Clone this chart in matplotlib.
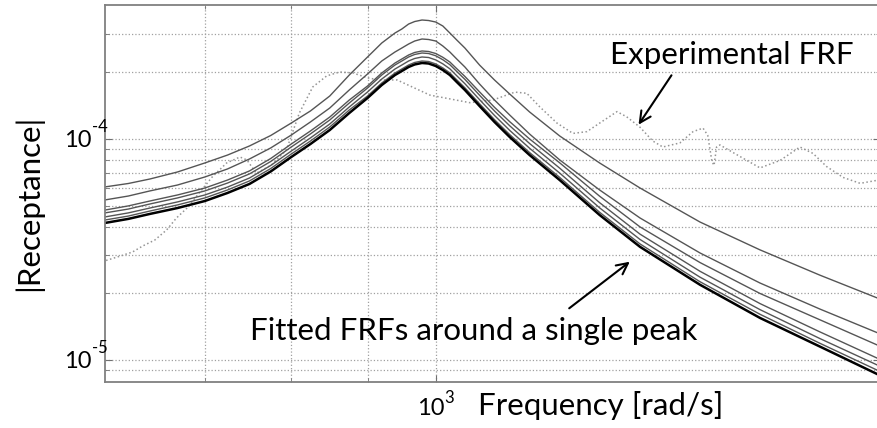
import numpy as np
import matplotlib
matplotlib.use('Agg')
import matplotlib.pyplot as plt

plt.rcParams['font.family'] = ['Lato', 'DejaVu Sans']

# frequency grid of the fitted FRFs [rad/s]
freq = [600, 622, 643, 671, 700, 725, 750, 775, 800, 824, 849, 875, 900, 920, 939, 949, 959, 968,
        979, 989, 1000, 1011, 1022, 1033, 1046, 1070, 1095, 1121, 1156, 1211, 1288, 1371, 1504,
        1650, 1810, 1977]

# fitted FRFs, |receptance| in units of 1e-5 (top curve first)
fit1 = [6.07, 6.29, 6.59, 7.09, 7.79, 8.46, 9.30, 10.37, 11.81, 13.39, 15.65, 19.48, 23.50, 27.19,
        30.18, 31.46, 33.14, 34.01, 34.55, 34.37, 33.83, 32.46, 30.18, 28.05, 25.81, 21.61, 18.49,
        15.98, 13.25, 10.32, 7.79, 6.00, 4.21, 3.15, 2.42, 1.91]
fit2 = [5.30, 5.52, 5.82, 6.19, 6.73, 7.32, 8.12, 9.11, 10.42, 11.94, 13.81, 16.67, 19.69, 22.54,
        24.76, 25.81, 26.91, 27.76, 28.35, 28.20, 27.76, 26.35, 24.76, 23.01, 21.18, 17.74, 15.01,
        12.84, 10.53, 8.04, 5.88, 4.39, 3.05, 2.23, 1.70, 1.33]
fit3 = [4.77, 4.98, 5.24, 5.58, 6.00, 6.52, 7.17, 8.16, 9.49, 10.87, 12.57, 15.01, 17.37, 19.89,
        22.07, 23.02, 24.00, 24.64, 25.02, 24.89, 24.37, 23.43, 22.31, 20.80, 19.20, 16.34, 13.91,
        11.98, 10.00, 7.80, 5.51, 4.00, 2.76, 2.00, 1.52, 1.17]
fit4 = [4.63, 4.82, 5.08, 5.41, 5.82, 6.32, 6.95, 7.91, 9.20, 10.54, 12.19, 14.55, 17.01, 19.48,
        21.62, 22.54, 23.51, 24.13, 24.50, 24.37, 23.80, 22.84, 21.70, 20.21, 18.62, 15.78, 13.39,
        11.48, 9.54, 7.38, 5.15, 3.71, 2.52, 1.80, 1.34, 1.02]
fit5 = [4.44, 4.63, 4.87, 5.19, 5.58, 6.06, 6.66, 7.59, 8.82, 10.11, 11.69, 13.96, 16.32, 18.68,
        20.74, 21.62, 22.55, 23.14, 23.50, 23.38, 22.80, 21.88, 20.78, 19.33, 17.80, 15.07, 12.78,
        10.94, 9.08, 7.01, 4.88, 3.51, 2.37, 1.69, 1.25, 0.95]
fit6 = [4.30, 4.48, 4.72, 5.03, 5.41, 5.88, 6.46, 7.35, 8.55, 9.79, 11.33, 13.53, 15.65, 17.92,
        19.89, 20.74, 21.62, 22.20, 22.54, 22.42, 21.86, 20.97, 19.91, 18.52, 17.05, 14.44, 12.23,
        10.47, 8.68, 6.70, 4.66, 3.35, 2.26, 1.61, 1.19, 0.90]
fit7 = [4.17, 4.35, 4.58, 4.87, 5.24, 5.70, 6.26, 7.13, 8.29, 9.49, 10.98, 13.11, 15.33, 17.55,
        19.48, 20.31, 21.18, 21.74, 22.08, 21.96, 21.40, 20.52, 19.48, 18.11, 16.67, 14.10, 11.94,
        10.21, 8.46, 6.52, 4.53, 3.25, 2.19, 1.55, 1.15, 0.864]

# experimental FRF
exp_freq = [601, 614, 626, 636, 648, 660, 670, 681, 694, 708, 724, 739, 747, 758, 776,
            794, 810, 827, 845, 862, 880, 900, 917, 942, 991, 1054, 1092, 1130, 1151, 1174,
            1206, 1236, 1263, 1288, 1323, 1343, 1371, 1398, 1420, 1458, 1488, 1511, 1522, 1532,
            1537, 1543, 1551, 1582, 1650, 1702, 1755, 1791, 1829, 1876, 1926, 1977]
exp_rec = [2.82, 2.95, 3.08, 3.28, 3.49, 3.88, 4.39, 4.87, 5.70, 6.73, 7.79, 8.29, 8.04, 7.0, 7.63,
           8.92, 13.1, 17.2, 19.3, 20.1, 19.9, 18.9, 18.5, 18.5, 15.8, 14.6, 15.0, 16.3, 16.1, 14.0,
           11.8, 10.6, 10.8, 11.8, 13.3, 12.6, 11.3, 9.8, 9.2, 9.6, 10.8, 11.2, 10.4, 7.9,
           7.6, 9.2, 9.4, 8.7, 7.4, 8.0, 9.2, 8.6, 7.5, 6.7, 6.3, 6.5]

W, H = 877, 428
fig = plt.figure(figsize=(W/100, H/100), dpi=100)
ax = fig.add_axes([105/W, 46/H, 775/W, 377/H])
ax.set_xscale('log')
ax.set_yscale('log')

ax.plot(exp_freq, np.array(exp_rec)*1e-5, ls=':', color='#959595', lw=1.1)
for c in [fit1, fit2, fit3, fit4, fit5, fit6]:
    ax.plot(freq, np.array(c)*1e-5, color='#555555', lw=1.0)
ax.plot(freq, np.array(fit7)*1e-5, color='k', lw=1.8)

ax.set_xlim(600, 1986)
ax.set_ylim(7.95e-6, 4.04e-4)

ax.set_xticks([1000])
ax.set_xticks([700, 800, 900], minor=True)
ax.set_yticks([1e-5, 1e-4])
ax.set_yticks([9e-6] + [k*1e-5 for k in range(2, 10)] + [2e-4, 3e-4], minor=True)
ax.tick_params(which='both', labelbottom=False, labelleft=False)

ax.grid(True, which='both', ls=':', color='#a0a0a0', lw=0.9)
ax.tick_params(which='both', direction='in', top=True, right=True, color='#707070')
ax.tick_params(which='major', length=5)
ax.tick_params(which='minor', length=3)
for s in ax.spines.values():
    s.set_color('#808080')
    s.set_linewidth(1.3)

# tick labels drawn as base + small exponent, like the original
for val, ex in [(1e-4, '-4'), (1e-5, '-5')]:
    ax.annotate('10', xy=(0, val), xycoords=('axes fraction', 'data'), xytext=(-13, -8),
                textcoords='offset pixels', ha='right', va='baseline', fontsize=17)
    ax.annotate(ex, xy=(0, val), xycoords=('axes fraction', 'data'), xytext=(-13, 7),
                textcoords='offset pixels', ha='left', va='baseline', fontsize=12)
ax.annotate('10', xy=(1000, 0), xycoords=('data', 'axes fraction'), xytext=(9, -33),
            textcoords='offset pixels', ha='right', va='baseline', fontsize=17)
ax.annotate('3', xy=(1000, 0), xycoords=('data', 'axes fraction'), xytext=(9, -21),
            textcoords='offset pixels', ha='left', va='baseline', fontsize=12)

ax.set_xlabel('Frequency [rad/s]', fontsize=22.5, ha='left', va='baseline')
ax.xaxis.set_label_coords((478-105)/775, (382-415)/377)
ax.set_ylabel('|Receptance|', fontsize=22.5, va='center')
ax.yaxis.set_label_coords((28-105)/775, (382-203)/377)

fig.text(610/W, 1-64/H, 'Experimental FRF', fontsize=22.5, va='baseline')
ax.annotate('', xy=(637, H-127), xycoords='figure pixels',
            xytext=(673, H-73), textcoords='figure pixels',
            arrowprops=dict(arrowstyle='->', lw=1.5, color='k', mutation_scale=20))
fig.text(250/W, 1-340/H, 'Fitted FRFs around a single peak', fontsize=22.5, va='baseline')
ax.annotate('', xy=(632, H-260), xycoords='figure pixels',
            xytext=(567, H-310), textcoords='figure pixels',
            arrowprops=dict(arrowstyle='->', lw=1.5, color='k', mutation_scale=20))

fig.savefig('out.png', dpi=100)
